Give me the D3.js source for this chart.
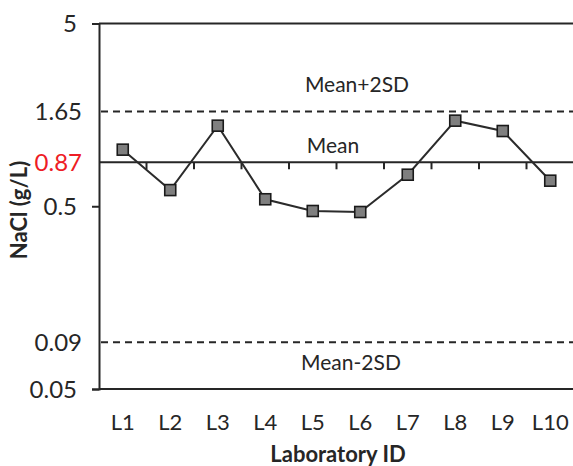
<!DOCTYPE html>
<html>
<head>
<meta charset="utf-8">
<script src="https://d3js.org/d3.v7.min.js"></script>
<style>
  html, body { margin: 0; padding: 0; background: #fff; }
  svg { display: block; }
  text { font-family: Lato, "Open Sans", sans-serif; fill: #262626; }
</style>
</head>
<body>
<svg id="chart" width="573" height="466"></svg>
<script>
const labs = ["L1","L2","L3","L4","L5","L6","L7","L8","L9","L10"];
const nacl = [1.02, 0.613, 1.38, 0.546, 0.471, 0.465, 0.744, 1.47, 1.29, 0.69];
const majorTicks = [5, 0.5, 0.05];
const refValues = [1.65, 0.87, 0.09];
const refLabels = ["1.65", "0.87", "0.09"];
const refNames = ["Mean+2SD", "Mean", "Mean-2SD"];

(function () {
const svg = d3.select("#chart");
const pLeft = 99, pRight = 574, pTop = 23.5, pBottom = 389;

const x = d3.scaleBand().domain(labs).range([pLeft, pRight]).padding(0);
const y = d3.scaleLog().domain([0.05, 5]).range([pBottom, pTop]);
const dark = "#262626";

// Top and bottom frame lines (at 5 and 0.05)
[5, 0.05].forEach(v => {
  svg.append("line").attr("x1", pLeft).attr("x2", 573)
    .attr("y1", y(v)).attr("y2", y(v))
    .attr("stroke", dark).attr("stroke-width", 2);
});

// Y axis
const yAxis = d3.axisLeft(y).tickValues(majorTicks).tickSize(7).tickPadding(15)
  .tickFormat(d => String(d));
const gy = svg.append("g").attr("transform", `translate(${pLeft},0)`).call(yAxis);
gy.select(".domain").attr("stroke", dark).attr("stroke-width", 2);
gy.selectAll(".tick line").attr("stroke", dark).attr("stroke-width", 2);
gy.selectAll(".tick text").style("font-size", "24px").attr("fill", dark)
  .style("font-family", "Lato, sans-serif").attr("dy", "0.35em");

// Reference labels on y axis
refValues.forEach((v, i) => {
  svg.append("text").attr("x", 82).attr("y", y(v)).attr("dy", "0.35em")
    .attr("text-anchor", "end").style("font-size", "24px")
    .style("fill", i === 1 ? "#ee1c25" : dark)
    .text(refLabels[i]);
});

// Dashed reference lines
[refValues[0], refValues[2]].forEach(v => {
  svg.append("line").attr("x1", pLeft + 2).attr("x2", 573)
    .attr("y1", y(v)).attr("y2", y(v))
    .attr("stroke", dark).attr("stroke-width", 2)
    .attr("stroke-dasharray", "7,5");
});

// Mean line as x axis, with ticks between categories
const xAxisY = y(refValues[1]);
svg.append("line").attr("x1", pLeft).attr("x2", 573)
  .attr("y1", xAxisY).attr("y2", xAxisY)
  .attr("stroke", dark).attr("stroke-width", 2);
labs.slice(1).forEach(c => {
  svg.append("line").attr("x1", x(c)).attr("x2", x(c))
    .attr("y1", xAxisY).attr("y2", xAxisY + 7)
    .attr("stroke", dark).attr("stroke-width", 2);
});

// Category labels at the bottom
labs.forEach(c => {
  svg.append("text").attr("x", x(c) + x.bandwidth() / 2).attr("y", 422)
    .attr("dy", "0.35em").attr("text-anchor", "middle")
    .style("font-size", "22px").text(c);
});

// Reference names
const namePos = [[357, 92], [333, 153], [351, 370]];
refNames.forEach((n, i) => {
  svg.append("text").attr("x", namePos[i][0]).attr("y", namePos[i][1])
    .attr("text-anchor", "middle").style("font-size", "21px").text(n);
});

// Line + markers
const line = d3.line().x((d, i) => x(labs[i]) + x.bandwidth() / 2).y(d => y(d));
svg.append("path").datum(nacl).attr("d", line)
  .attr("fill", "none").attr("stroke", "#2b2b2b").attr("stroke-width", 2);
svg.selectAll("rect.m").data(nacl).enter().append("rect").attr("class", "m")
  .attr("x", (d, i) => x(labs[i]) + x.bandwidth() / 2 - 5.5)
  .attr("y", d => y(d) - 5.5)
  .attr("width", 11).attr("height", 11)
  .attr("fill", "#7f7f7f").attr("stroke", "#1a1a1a").attr("stroke-width", 1.6);

// Axis titles
svg.append("text").attr("x", 338).attr("y", 462)
  .attr("text-anchor", "middle").style("font-size", "22px").style("font-weight", "bold")
  .text("Laboratory ID");
svg.append("text").attr("transform", "translate(27,210) rotate(-90)")
  .attr("text-anchor", "middle").style("font-size", "22px").style("font-weight", "bold")
  .text("NaCl (g/L)");
})();
</script>
</body>
</html>
